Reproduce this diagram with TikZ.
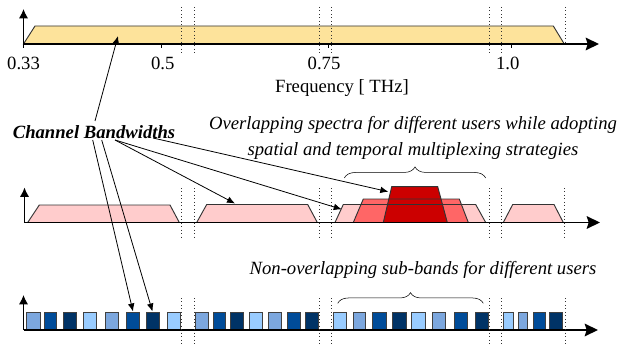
\documentclass[tikz,border=0pt]{standalone}
\usepackage{fontspec}
\setmainfont{Liberation Serif}
\usetikzlibrary{arrows.meta,decorations.pathreplacing}
\definecolor{BandYellow}{RGB}{253,227,155}
\definecolor{SpecPink}{RGB}{255,204,204}
\definecolor{SpecRed}{RGB}{255,102,102}
\definecolor{SpecDark}{RGB}{204,0,0}
\definecolor{SubLight}{RGB}{153,204,255}
\definecolor{SubMid}{RGB}{124,167,222}
\definecolor{SubDeep}{RGB}{0,76,153}
\definecolor{SubNavy}{RGB}{0,51,102}

\begin{document}
\begin{tikzpicture}[x=0.75pt,y=-0.75pt,
  axis/.style={line width=1.1pt,-{Stealth[length=10pt,width=9.5pt,inset=1.5pt]}},
  yaxis/.style={line width=1.1pt,-{Latex[length=7pt,width=7pt]}},
  band/.style={draw=black!80,line width=0.7pt},
  guide/.style={dotted,line width=0.6pt,black!80},
  pointer/.style={-{Latex[length=6pt,width=5pt]},line width=0.6pt},
  lbl/.style={font=\fontsize{14}{16}\selectfont,inner sep=0pt},
  note/.style={font=\fontsize{14}{19}\selectfont\itshape,align=center,inner sep=0pt},
  subband/.style={draw=black!75,line width=0.6pt}]
  \useasboundingbox (0,0) rectangle (620,349);
  % top row: whole band
  \draw[band,fill=BandYellow] (23.5,44) -- (35,26) -- (553.3,26) -- (564.3,44) -- cycle;
  \coordinate (o1) at (23.5,44); \coordinate (x1) at (599,44); \coordinate (y1) at (23.5,9);
  \draw[axis] (o1) -- (x1);
  \draw[yaxis] (o1) -- (y1);
  \foreach \x in {181.5,194,319,331.5,489.5,501.5} \draw[guide] (\x,7) -- (\x,55);
  \draw[guide] (565,7) -- (565,43);
  \foreach \x in {23.5,161.7,328,511} \draw[line width=0.7pt] (\x,44) -- (\x,48);
  \node[lbl] (f1) at (23.5,63) {0.33};
  \node[lbl] (f2) at (162.7,63) {0.5};
  \node[lbl] (f3) at (324,63) {0.75};
  \node[lbl] (f4) at (507.7,63) {1.0};
  \node[lbl] (fq) at (342,88) {Frequency [ THz]};

  % middle row: overlapping spectra
  \draw[band,fill=SpecPink] (27.7,222.5) -- (39.3,205) -- (170,205) -- (179.3,222.5);
  \draw[band,fill=SpecPink] (196.7,222.5) -- (206.7,204.5) -- (307.7,204.5) -- (317.3,222.5);
  \draw[band,fill=SpecPink] (503.3,222.5) -- (512.7,204.5) -- (554,204.5) -- (563.3,222.5);
  \fill[SpecPink] (335,222.5) -- (343.3,204.5) -- (475.7,204.5) -- (485.7,222.5) -- cycle;
  \fill[SpecRed] (353.3,222.5) -- (363.3,199) -- (459.3,199) -- (468.3,222.5) -- cycle;
  \fill[SpecDark] (383.3,222.5) -- (391.7,186.7) -- (437.7,186.7) -- (447.3,222.5) -- cycle;
  \draw[band] (335,222.5) -- (343.3,204.5) -- (475.7,204.5) -- (485.7,222.5);
  \draw[band] (353.3,222.5) -- (363.3,199) -- (459.3,199) -- (468.3,222.5);
  \draw[band] (383.3,222.5) -- (391.7,186.7) -- (437.7,186.7) -- (447.3,222.5);
  \coordinate (o2) at (24.5,222.5); \coordinate (x2) at (600,222.5); \coordinate (y2) at (24.5,187.5);
  \draw[axis] (o2) -- (x2);
  \draw[yaxis] (o2) -- (y2);
  \foreach \x in {181.5,194,319,331.5,489.5,501.5,564.5} \draw[guide] (\x,188) -- (\x,238);
  \draw[decorate,decoration={brace,amplitude=8.3pt}] (344.3,178) -- (485.7,178);
  \node[note] (ov) at (413,138) {Overlapping spectra for different users while adopting\\spatial and temporal multiplexing strategies};

  % bottom row: sub-bands
  \foreach \xa/\xb/\c in {26/40/SubMid,44.5/56/SubDeep,63/76/SubNavy,83.5/96.5/SubLight,
      105/118/SubMid,126.5/139.5/SubDeep,146.5/159.5/SubNavy,167/180/SubLight,
      195/208.3/SubMid,213/225/SubDeep,230/243.3/SubNavy,249/262/SubLight,
      268/281/SubMid,287/300/SubDeep,305/318.3/SubNavy,
      333.3/346/SubLight,353/365/SubMid,372.7/386/SubDeep,392.7/406/SubNavy,
      411.7/425/SubLight,432/445/SubMid,454/467/SubDeep,475/488.3/SubNavy,
      503.3/513.3/SubLight,518/527/SubMid,533.3/545/SubDeep,549.3/562.7/SubNavy}
    \draw[subband,fill=\c] (\xa,330) rectangle (\xb,312);
  \coordinate (o3) at (23.5,330); \coordinate (x3) at (598,330); \coordinate (y3) at (23.5,295);
  \draw[axis] (o3) -- (x3);
  \draw[yaxis] (o3) -- (y3);
  \foreach \x in {181.5,194,319,331.5,489.5,501.5,565} \draw[guide] (\x,298) -- (\x,345);
  \draw[decorate,decoration={brace,amplitude=8pt}] (337.7,303.3) -- (483.3,303.3);
  \node[note] (nv) at (423,270) {Non-overlapping sub-bands for different users};

  % pointers from the label
  \node[font=\fontsize{14}{16}\selectfont\bfseries\itshape,inner sep=0pt] (cb) at (94,131.7) {Channel Bandwidths};
  \coordinate (cbA) at (95,121);
  \coordinate (cbB) at (92.7,140);
  \coordinate (cbC) at (101.7,140);
  \coordinate (cbD) at (115,140);
  \coordinate (cbE) at (153,138);
  \coordinate (tY) at (118,36);
  \coordinate (tS1) at (133,311.5);
  \coordinate (tS2) at (152.5,311.5);
  \coordinate (tM1) at (235,203.5);
  \coordinate (tM2) at (341.7,209.3);
  \coordinate (tM3) at (388.3,191.7);
  \draw[pointer] (cbA) -- (tY);
  \draw[pointer] (cbB) -- (tS1);
  \draw[pointer] (cbC) -- (tS2);
  \draw[pointer] (cbD) -- (tM1);
  \draw[pointer] (cbD) -- (tM2);
  \draw[pointer] (cbE) -- (tM3);
\end{tikzpicture}
\end{document}
